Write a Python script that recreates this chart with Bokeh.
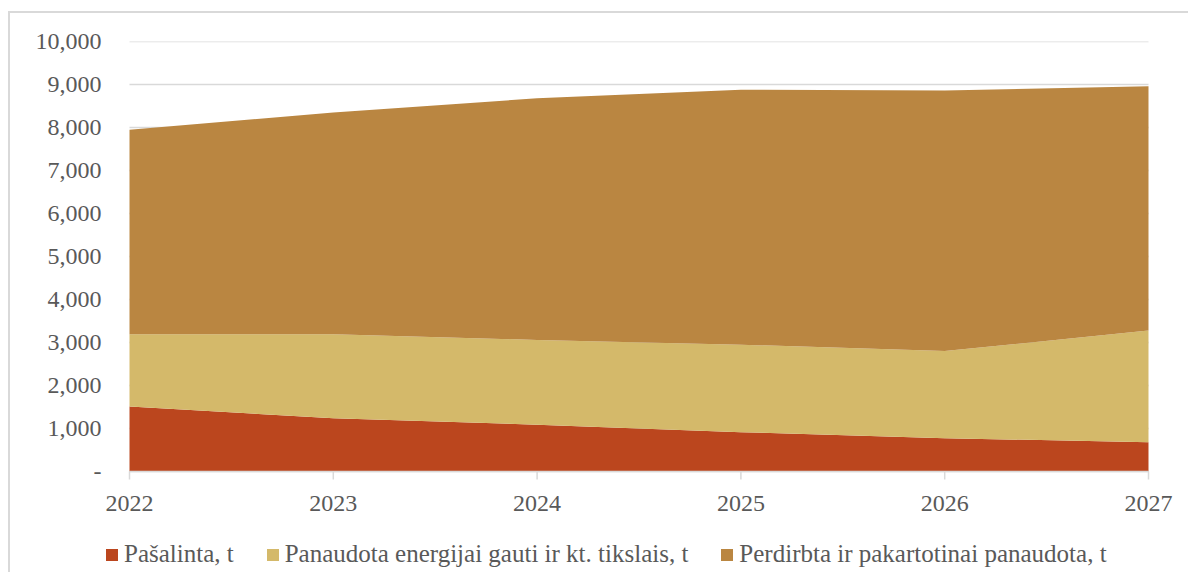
import math
from bokeh.plotting import figure
from bokeh.models import Legend, LegendItem, NumeralTickFormatter, FixedTicker, Range1d
from bokeh.core.properties import value
from bokeh.embed import file_html
from bokeh.resources import INLINE

years = [2022, 2023, 2024, 2025, 2026, 2027]
year_labels = ["2022", "2023", "2024", "2025", "2026", "2027"]
pasalinta = [1510, 1240, 1090, 915, 775, 680]
energijai = [1680, 1950, 1970, 2035, 2025, 2600]
perdirbta = [4760, 5160, 5620, 5930, 6060, 5680]
series_names = ["Pašalinta, t", "Panaudota energijai gauti ir kt. tikslais, t",
                "Perdirbta ir pakartotinai panaudota, t"]
colors = ["#BB461E", "#D4B96A", "#BA8641"]
y_ticks = [0, 1000, 2000, 3000, 4000, 5000, 6000, 7000, 8000, 9000, 10000]

FONT = "Liberation Serif"
TXT = "#595959"
GRID = "#D9D9D9"

# layout: plot area 1019 x 430 px, with extra room around it for labels and legend
AREA_W = 1019
AXIS_PX = 430
EXTRA_PX = 101
PAD_PX = 25
span_years = years[-1] - years[0]
x_pad = PAD_PX * span_years / AREA_W
y_start = -y_ticks[-1] * EXTRA_PX / AXIS_PX

p = figure(frame_width=AREA_W + 2 * PAD_PX, frame_height=AXIS_PX + EXTRA_PX, output_backend="svg",
           toolbar_location=None, x_axis_location=None,
           x_range=Range1d(years[0] - x_pad, years[-1] + x_pad),
           y_range=Range1d(y_start, y_ticks[-1]),
           min_border_left=119 - PAD_PX, min_border_right=40 - PAD_PX,
           min_border_top=28, min_border_bottom=0)
p.styles = {"border-top": "2px solid #D9D9D9", "border-left": "2px solid #D9D9D9",
            "margin-left": "8px", "margin-top": "11px"}
p.outline_line_color = None
p.background_fill_color = "white"
p.border_fill_color = "white"
p.xgrid.visible = False
p.ygrid.visible = False

# horizontal gridlines across the category span
n = len(y_ticks)
p.segment(x0=[years[0]] * n, x1=[years[-1]] * n, y0=y_ticks, y1=y_ticks,
          line_color=GRID, line_width=1.5)

data = {"x": years, "a": pasalinta, "b": energijai, "c": perdirbta}
rs = p.varea_stack(["a", "b", "c"], x="x", color=colors, source=data)

# category axis at value 0
p.segment(x0=[years[0]], x1=[years[-1]], y0=[0], y1=[0], line_color=GRID, line_width=1.5)
p.ray(x=years, y=[0] * len(years), length=8, length_units="screen", angle=-math.pi / 2,
      line_color=GRID, line_width=1.5)
p.text(x=years, y=[0] * len(years), text=year_labels, y_offset=24,
       text_align="center", text_baseline="top", text_font=value(FONT),
       text_font_size="24px", text_color=TXT)

p.yaxis.ticker = FixedTicker(ticks=y_ticks)
p.yaxis.formatter = NumeralTickFormatter(format="0,0")
p.yaxis.major_label_overrides = {0: "-"}
p.yaxis.axis_line_color = None
p.yaxis.major_tick_line_color = None
p.yaxis.minor_tick_line_color = None
p.yaxis.major_tick_out = 0
p.yaxis.major_label_standoff = 28 - PAD_PX
p.yaxis.major_label_text_font = FONT
p.yaxis.major_label_text_font_size = "24px"
p.yaxis.major_label_text_color = TXT

legend = Legend(items=[LegendItem(label=n_, renderers=[r]) for n_, r in zip(series_names, rs)],
                orientation="horizontal", location=(0, 3),
                glyph_width=15, glyph_height=15, label_standoff=5, spacing=31,
                label_height=30, padding=0, margin=0, border_line_color=None,
                background_fill_alpha=0,
                label_text_font=FONT, label_text_font_size="25px", label_text_color=TXT)
p.add_layout(legend, "center")

open("out.html", "w").write(file_html(p, INLINE))
